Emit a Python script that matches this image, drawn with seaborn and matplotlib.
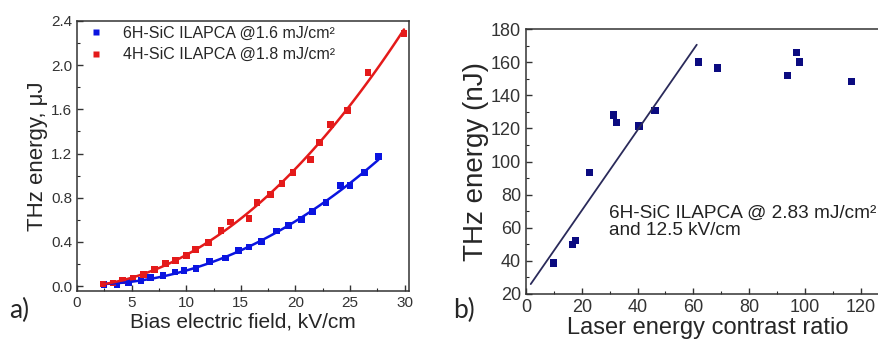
import numpy as np
import pandas as pd
import matplotlib
matplotlib.use("Agg")
import matplotlib.pyplot as plt
from matplotlib.ticker import MultipleLocator
import seaborn as sns

# ---- Panel a) data ----
field_6h = [2.47, 3.66, 4.73, 5.86, 6.74, 7.87, 8.97, 9.8, 10.9, 12.15, 13.58, 14.77,
            15.75, 16.9, 18.25, 19.4, 20.57, 21.6, 22.8, 24.14, 25.0, 26.33, 27.6]
energy_6h = [0.012, 0.015, 0.03, 0.05, 0.075, 0.097, 0.127, 0.142, 0.157, 0.224, 0.254, 0.323,
             0.354, 0.405, 0.499, 0.547, 0.60, 0.677, 0.753, 0.907, 0.907, 1.025, 1.17]
field_4h = [2.38, 3.3, 4.15, 5.13, 6.1, 7.1, 8.09, 9.0, 10.0, 10.86, 12.05, 13.18, 14.07,
            15.75, 16.48, 17.7, 18.77, 19.77, 21.36, 22.2, 23.2, 24.8, 26.64, 29.94]
energy_4h = [0.018, 0.027, 0.05, 0.073, 0.106, 0.148, 0.203, 0.233, 0.278, 0.333, 0.393, 0.505,
             0.58, 0.614, 0.753, 0.828, 0.925, 1.025, 1.146, 1.297, 1.466, 1.593, 1.93, 2.285]
label_6h = "6H-SiC ILAPCA @1.6 mJ/cm²"
label_4h = "4H-SiC ILAPCA @1.8 mJ/cm²"

# ---- Panel b) data ----
contrast = [9.9, 16.7, 17.7, 22.7, 31.3, 32.5, 40.4, 46.2, 61.8, 68.6, 93.7, 97.0, 98.0, 116.7]
thz_nj = [38.7, 49.8, 52.2, 93.3, 128.1, 123.6, 121.4, 130.7, 160.1, 156.4, 152.0, 165.9, 160.1, 148.4]
guide_x = [1.7, 61.2]
guide_y = [26.0, 170.5]

BLUE = "#0a14e0"
RED = "#e41a1a"
NAVY = "#0b0b80"
LINE_NAVY = "#2a2a5a"

sns.set_style("ticks")
plt.rcParams["font.family"] = ["Liberation Sans", "DejaVu Sans"]
plt.rcParams["xtick.direction"] = "in"
plt.rcParams["ytick.direction"] = "in"

fig = plt.figure(figsize=(8.79, 3.42), dpi=100)

# ================= Panel a =================
axa = fig.add_axes([77 / 879, 1 - 291 / 342, 332 / 879, 270 / 342])
df6 = pd.DataFrame({"x": field_6h, "y": energy_6h})
df4 = pd.DataFrame({"x": field_4h, "y": energy_4h})
sns.regplot(data=df6, x="x", y="y", order=2, ci=None, scatter=False, truncate=True,
            color=BLUE, line_kws={"lw": 1.8}, ax=axa)
sns.regplot(data=df4, x="x", y="y", order=2, ci=None, scatter=False, truncate=True,
            color=RED, line_kws={"lw": 1.8}, ax=axa)
dfa = pd.concat([df6.assign(s=label_6h), df4.assign(s=label_4h)])
sns.scatterplot(data=dfa, x="x", y="y", hue="s", palette=[BLUE, RED], marker="s",
                s=24, edgecolor="none", ax=axa)
axa.set_xlim(0, 30.4)
axa.set_ylim(-0.045, 2.4)
axa.xaxis.set_major_locator(MultipleLocator(5))
axa.xaxis.set_minor_locator(MultipleLocator(2.5))
axa.yaxis.set_major_locator(MultipleLocator(0.4))
axa.yaxis.set_minor_locator(MultipleLocator(0.2))
axa.yaxis.set_major_formatter(matplotlib.ticker.FormatStrFormatter("%.1f"))
axa.tick_params(which="major", length=4, width=1, labelsize=11, colors="#333333",
                top=False, right=False)
axa.tick_params(which="minor", length=2.5, width=0.8, top=False, right=False)
for sp in axa.spines.values():
    sp.set_visible(True)
    sp.set_color("#333333")
    sp.set_linewidth(1.1)
axa.set_xlabel("Bias electric field, kV/cm", fontsize=15, labelpad=2)
axa.set_ylabel("THz energy, μJ", fontsize=16, labelpad=2)
sns.move_legend(axa, loc="upper left", bbox_to_anchor=(-0.033, 1.035), frameon=False, title=None,
                fontsize=11.5, handletextpad=0.65, labelspacing=0.4, markerscale=1.0)
fig.text(0.010, 0.093, "a)", fontsize=19, family=["Lato", "DejaVu Sans"], va="center")

# ================= Panel b =================
axb = fig.add_axes([526 / 879, 1 - 294 / 342, 362.7 / 879, 265 / 342])
dfb = pd.DataFrame({"x": contrast, "y": thz_nj})
sns.lineplot(x=guide_x, y=guide_y, color=LINE_NAVY, lw=1.3, ax=axb)
sns.scatterplot(data=dfb, x="x", y="y", marker="s", s=30, color=NAVY, edgecolor="none", ax=axb)
axb.set_xlim(0, 130)
axb.set_ylim(20, 180)
axb.xaxis.set_major_locator(MultipleLocator(20))
axb.xaxis.set_minor_locator(MultipleLocator(10))
axb.yaxis.set_major_locator(MultipleLocator(20))
axb.yaxis.set_minor_locator(MultipleLocator(10))
axb.tick_params(which="major", length=4, width=1, labelsize=13, colors="#333333",
                top=False, right=False)
axb.tick_params(which="minor", length=2.5, width=0.8, top=False, right=False)
for name, sp in axb.spines.items():
    sp.set_visible(name != "right")
    sp.set_color("#333333")
    sp.set_linewidth(1.1)
axb.set_xlabel("Laser energy contrast ratio", fontsize=17, labelpad=1)
axb.set_ylabel("THz energy (nJ)", fontsize=20, labelpad=1)
axb.text(29.9, 63.5, "6H-SiC ILAPCA @ 2.83 mJ/cm²\nand 12.5 kV/cm", fontsize=13.7,
         va="center", ha="left", color="#222222", linespacing=1.05)
fig.text(0.516, 0.093, "b)", fontsize=19, family=["Lato", "DejaVu Sans"], va="center")

fig.savefig("out.png", dpi=100)
